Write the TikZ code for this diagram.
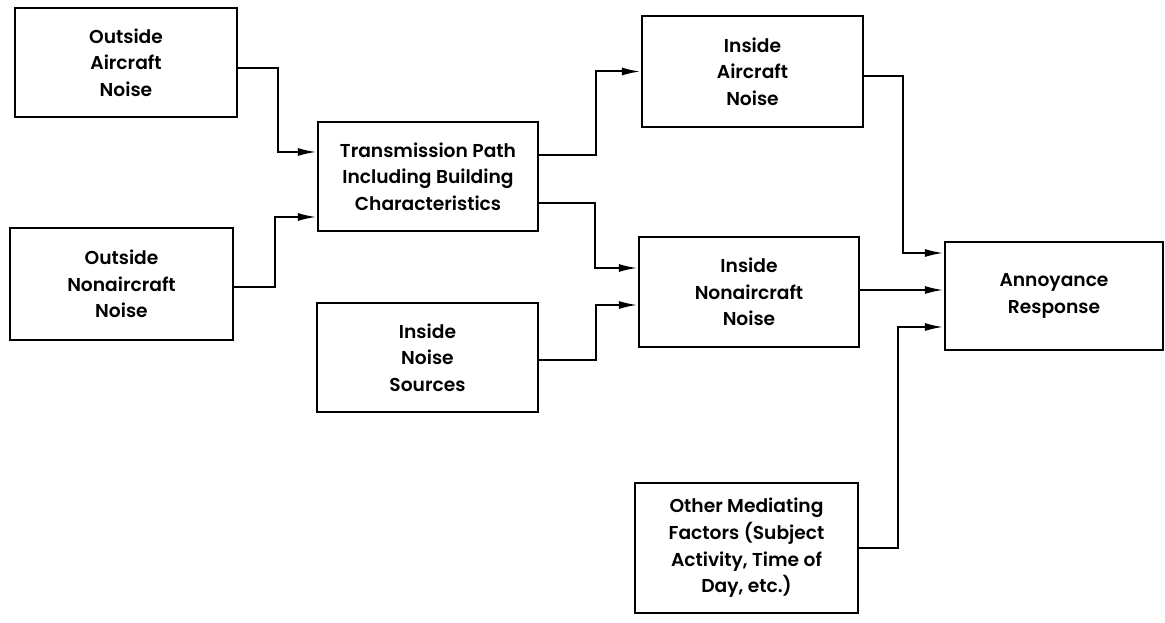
\documentclass[tikz,border=0pt]{standalone}
\usepackage{fontspec}
\setmainfont{Poppins}[UprightFont=* SemiBold]
\usetikzlibrary{arrows.meta,calc}

\begin{document}
\begin{tikzpicture}[
        x=0.75pt,
        y=-0.75pt,
        box/.style={draw, line width=2.2pt, align=center, inner sep=0pt,
            font=\fontsize{14}{20}\selectfont},
        conn/.style={line width=1.5pt, -{Latex[length=14pt,width=6pt]}}
    ]
    \useasboundingbox (0,0) rectangle (1165,623);

    \node[box, minimum width=222*0.75pt, minimum height=109*0.75pt] (oan) at (126,62.5) {Outside\\Aircraft\\Noise};
    \node[box, minimum width=223*0.75pt, minimum height=112*0.75pt] (onn) at (121.5,284) {Outside\\Nonaircraft\\Noise};
    \node[box, minimum width=220*0.75pt, minimum height=109*0.75pt] (tpath) at (428,176.5) {Transmission Path\\Including Building\\Characteristics};
    \node[box, minimum width=221*0.75pt, minimum height=109*0.75pt] (ins) at (427.5,357.5) {Inside\\Noise\\Sources};
    \node[box, minimum width=221*0.75pt, minimum height=111*0.75pt] (ian) at (752.5,71.5) {Inside\\Aircraft\\Noise};
    \node[box, minimum width=220*0.75pt, minimum height=110*0.75pt] (inn) at (749,292) {Inside\\Nonaircraft\\Noise};
    \node[box, minimum width=218*0.75pt, minimum height=108*0.75pt] (ann) at (1054,296) {Annoyance\\Response};
    \node[box, minimum width=223*0.75pt, minimum height=130*0.75pt] (omf) at (746.5,548) {Other Mediating\\Factors (Subject\\Activity, Time of\\Day, etc.)};

    % outside noise into the transmission path
    \draw[conn] ($(oan.east)+(0,5.5)$) -- ++(40,0) |- ($(tpath.west)+(0,-24.5)$);
    \draw[conn] ($(onn.east)+(0,3)$) -- ++(41,0) |- ($(tpath.west)+(0,40.5)$);

    % transmission path to the inside
    \draw[conn] ($(tpath.east)+(0,-21.5)$) -- ++(57,0) |- (ian.west);
    \draw[conn] ($(tpath.east)+(0,26.5)$) -- ++(56,0) |- ($(inn.west)+(0,-24)$);
    \draw[conn] ($(ins.east)+(0,2.5)$) -- ++(57,0) |- ($(inn.west)+(0,13)$);

    % into the response
    \draw[conn] ($(ian.east)+(0,4.5)$) -- ++(39,0) |- ($(ann.west)+(0,-43)$);
    \draw[conn] ($(inn.east)+(0,-2)$) -- ($(ann.west)+(0,-6)$);
    \draw[conn] (omf.east) -- ++(39,0) |- ($(ann.west)+(0,31)$);
\end{tikzpicture}
\end{document}
